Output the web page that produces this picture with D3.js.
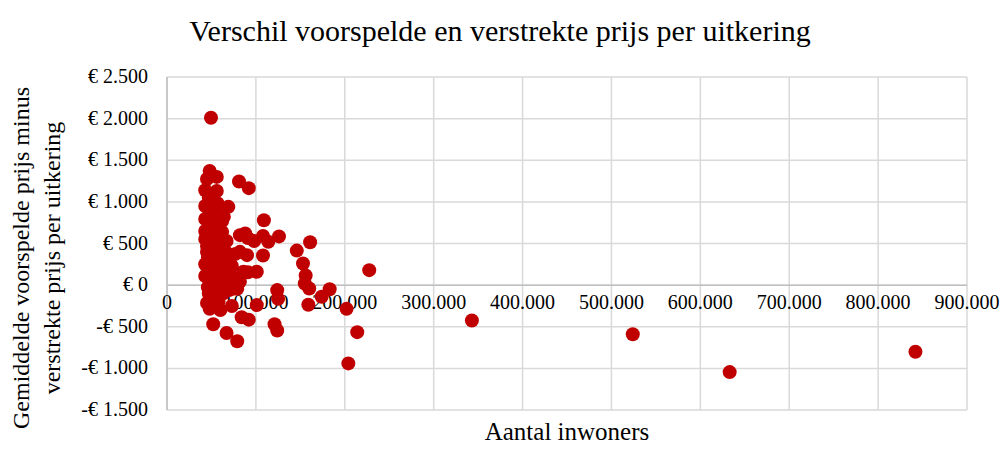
<!DOCTYPE html>
<html>
<head>
<meta charset="utf-8">
<style>
body { margin: 0; background: #fff; }
svg text { font-family: "Liberation Serif", "DejaVu Serif", serif; fill: #000; }
.grid line { stroke: #d9d9d9; stroke-width: 1.5px; }
.zero { stroke: #bfbfbf; stroke-width: 1.5px; }
</style>
</head>
<body>
<script src="https://d3js.org/d3.v7.min.js"></script>
<script>
// aantal inwoners per gemeente
var inwoners = [
  49500, 842000, 633000, 524000, 343000, 204000, 214000, 202000, 227500, 183000,
  174000, 159000, 161000, 160000, 146000, 153000, 156000, 155000, 124000, 125000,
  121000, 124000, 109000, 126000, 108000, 114000, 108000, 101000, 101000, 92000,
  81000, 82000, 91000, 98000, 90000, 82000, 91000, 86000, 73000, 69000,
  62000, 79000, 75000, 67000, 82000, 73000, 73000, 84000, 92000, 67000,
  79000, 52000, 48000, 45000, 46000, 57000, 65000, 77000, 62000, 70000,
  67000, 56000, 48000, 45000, 43000, 56000, 43000, 52000, 45000, 43000,
  48000, 55000, 43000, 52000, 58000, 43000, 53000, 45000, 60000, 45000,
  52000, 58000, 43000, 50000, 56000, 43000, 48000, 55000, 60000, 47000,
  52000, 58000, 63000, 66000, 62000, 50000, 57000, 47000, 65000, 60000,
  70000, 88000, 64000, 54000, 46000, 68000, 59000, 50000
];
// gemiddelde voorspelde prijs minus verstrekte prijs per uitkering (euro)
var verschil = [
  2010, -800, -1045, -590, -425, -940, -565, -285, 180, -50,
  -140, -235, 515, -40, 415, 260, 115, 20, -60, -165,
  -470, -545, 780, 585, 590, 520, 355, 160, -240, 1165,
  1245, 600, 565, 530, 360, 400, 155, 160, 230, 940,
  770, -45, -40, 45, 40, 105, -250, -385, -415, -575,
  -675, -470, -285, -215, -25, -10, 410, 375, 255, 280,
  530, 1300, 1370, 1275, 1140, 1130, 950, 1000, 940, 795,
  850, 880, 650, 675, 720, 555, 530, 470, 600, 400,
  350, 450, 250, 200, 300, 110, 60, 140, 90, -100,
  -150, -200, -100, 170, 640, 760, 980, 1050, -20, -300,
  -60, 620, 820, 580, 330, 380, 30, -60
];
var xTicks = [0, 100000, 200000, 300000, 400000, 500000, 600000, 700000, 800000, 900000];
var yTicks = [-1500, -1000, -500, 0, 500, 1000, 1500, 2000, 2500];

var width = 1003, height = 450;
var plot = { left: 167, right: 967, top: 77, bottom: 410 };

var svg = d3.select("body").append("svg")
    .attr("width", width)
    .attr("height", height);

var x = d3.scaleLinear().domain([0, 900000]).range([plot.left, plot.right]);
var y = d3.scaleLinear().domain([-1500, 2500]).range([plot.bottom, plot.top]);

var nl = d3.formatLocale({ decimal: ",", thousands: ".", grouping: [3], currency: ["€ ", ""] });
var fmtX = nl.format(",d");
function fmtY(d) {
  return (d < 0 ? "-€ " : "€ ") + nl.format(",d")(Math.abs(d));
}

// gridlines
var grid = svg.append("g").attr("class", "grid");
grid.selectAll("line.v").data(xTicks).enter().append("line")
    .attr("class", "v")
    .attr("x1", function (d) { return x(d); })
    .attr("x2", function (d) { return x(d); })
    .attr("y1", plot.top)
    .attr("y2", plot.bottom);
grid.selectAll("line.h").data(yTicks).enter().append("line")
    .attr("class", "h")
    .attr("x1", plot.left)
    .attr("x2", plot.right)
    .attr("y1", function (d) { return y(d); })
    .attr("y2", function (d) { return y(d); });

// axis lines
svg.append("line").attr("class", "zero")
    .attr("x1", plot.left).attr("x2", plot.right)
    .attr("y1", y(0)).attr("y2", y(0));
svg.append("line").attr("class", "zero")
    .attr("x1", x(0)).attr("x2", x(0))
    .attr("y1", plot.top).attr("y2", plot.bottom);

// tick labels
svg.selectAll("text.xt").data(xTicks).enter().append("text")
    .attr("class", "xt")
    .attr("x", function (d) { return x(d); })
    .attr("y", y(0) + 24)
    .attr("text-anchor", "middle")
    .style("font-size", "20px")
    .text(function (d) { return fmtX(d); });

svg.selectAll("text.yt").data(yTicks).enter().append("text")
    .attr("class", "yt")
    .attr("x", plot.left - 19)
    .attr("y", function (d) { return y(d) + 6; })
    .attr("text-anchor", "end")
    .style("font-size", "20px")
    .text(function (d) { return fmtY(d); });

// points
svg.append("g").selectAll("circle")
    .data(d3.range(inwoners.length))
    .enter().append("circle")
    .attr("cx", function (i) { return x(inwoners[i]); })
    .attr("cy", function (i) { return y(verschil[i]); })
    .attr("r", 7)
    .attr("fill", "#c00000");

// titles
svg.append("text")
    .attr("x", 500)
    .attr("y", 41)
    .attr("text-anchor", "middle")
    .style("font-size", "30px")
    .text("Verschil voorspelde en verstrekte prijs per uitkering");

svg.append("text")
    .attr("x", 567)
    .attr("y", 440)
    .attr("text-anchor", "middle")
    .style("font-size", "25px")
    .text("Aantal inwoners");

var yt = svg.append("text")
    .attr("transform", "translate(29,258) rotate(-90)")
    .attr("text-anchor", "middle")
    .style("font-size", "24px");
yt.append("tspan").attr("x", 0).attr("dy", 0).text("Gemiddelde voorspelde prijs minus");
yt.append("tspan").attr("x", 0).attr("dy", 31).text("verstrekte prijs per uitkering");
</script>
</body>
</html>
